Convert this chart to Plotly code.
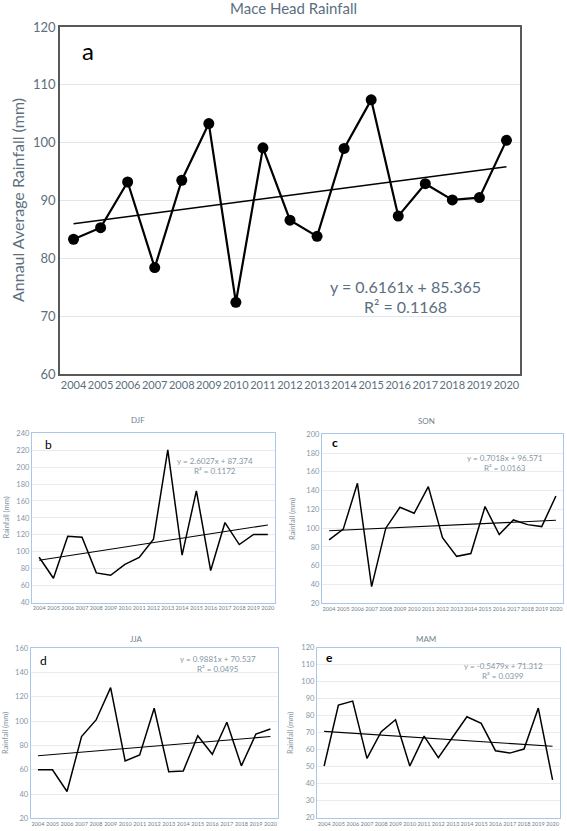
import plotly.graph_objects as go

W, H = 567, 831

years = list(range(2004, 2021))
year_labels = [str(y) for y in years]

annual = [83.3, 85.3, 93.2, 78.4, 93.5, 103.3, 72.4, 99.1, 86.6, 83.8, 99.0, 107.4, 87.3, 92.9, 90.1, 90.5, 100.4]
djf = [93.5, 68.7, 118.3, 117.2, 75.0, 72.2, 85.0, 93.2, 114.8, 220.3, 96.0, 172.0, 77.8, 134.5, 108.5, 120.5, 120.3]
son = [87.5, 99.0, 147.8, 37.8, 100.0, 122.3, 115.9, 144.3, 90.0, 70.0, 73.0, 123.0, 93.2, 108.8, 103.8, 101.7, 134.3]
jja = [60.0, 60.0, 42.1, 87.3, 101.0, 127.6, 67.2, 72.2, 110.6, 58.4, 59.0, 88.0, 72.7, 99.1, 63.2, 89.4, 93.6]
mam = [50.4, 86.3, 88.6, 54.9, 70.6, 77.6, 50.4, 68.0, 55.3, 67.0, 79.4, 75.5, 59.4, 58.0, 60.4, 84.5, 42.2]

# trend equations (x = 1..17) as printed on the chart
trend_annual = (0.6161, 85.365, "y = 0.6161x + 85.365", "R² = 0.1168")
trend_djf = (2.6027, 87.374, "y = 2.6027x + 87.374", "R² = 0.1172")
trend_son = (0.7018, 96.571, "y = 0.7018x + 96.571", "R² = 0.0163")
trend_jja = (0.9881, 70.537, "y = 0.9881x + 70.537", "R² = 0.0495")
trend_mam = (-0.5479, 71.312, "y = -0.5479x + 71.312", "R² = 0.0399")

FONT = "Lato"
MAIN_TXT = "#5b6f7e"
SMALL_TXT = "#8596a5"

def px_x(a, b):
    return [a / W, b / W]

def px_y(top, bottom):
    return [1 - bottom / H, 1 - top / H]

fig = go.Figure()

def trend_vals(t):
    m, c = t[0], t[1]
    return [m * (i + 1) + c for i in range(len(years))]

panels = [
    dict(data=annual, trend=trend_annual, s="", xd=(60, 520), yd=(27, 374), yr=(60, 120), dt=10),
    dict(data=djf, trend=trend_djf, s="2", xd=(32, 275), yd=(433.3, 602.5), yr=(40, 240), dt=20),
    dict(data=son, trend=trend_son, s="3", xd=(322, 563), yd=(434.3, 603.3), yr=(20, 200), dt=20),
    dict(data=jja, trend=trend_jja, s="4", xd=(30.7, 277.7), yd=(648.3, 818.3), yr=(20, 160), dt=20),
    dict(data=mam, trend=trend_mam, s="5", xd=(317, 559.7), yd=(647.7, 817.7), yr=(20, 120), dt=10),
]

for i, p in enumerate(panels):
    main = i == 0
    xa = "x" + p["s"]
    ya = "y" + p["s"]
    fig.add_trace(go.Scatter(
        x=years, y=p["data"], xaxis=xa, yaxis=ya,
        mode="lines+markers" if main else "lines",
        line=dict(color="black", width=2.2 if main else 1.5),
        marker=dict(size=11, color="black"),
        showlegend=False, hoverinfo="skip"))
    fig.add_trace(go.Scatter(
        x=years, y=trend_vals(p["trend"]), xaxis=xa, yaxis=ya,
        mode="lines", line=dict(color="black", width=1.5 if main else 1.1),
        showlegend=False, hoverinfo="skip"))
    xkey = "xaxis" + p["s"]
    ykey = "yaxis" + p["s"]
    fig.update_layout(**{
        xkey: dict(domain=px_x(*p["xd"]), range=[2003.5, 2020.5], anchor=ya,
                   tickmode="array", tickvals=years, ticktext=year_labels,
                   tickangle=0, automargin=False,
                   showgrid=False, zeroline=False, showline=True, mirror=True,
                   linecolor="#595959" if main else "#a8c7ea", linewidth=1.5 if main else 1.2,
                   ticks="", ticklen=0,
                   tickfont=dict(family=FONT, size=11 if main else 5.6,
                                 color=MAIN_TXT if main else "#6f7f8c"),
                   showticklabels=True),
        ykey: dict(domain=px_y(*p["yd"]), range=list(p["yr"]), anchor=xa,
                   dtick=p["dt"], tick0=0, showgrid=True, automargin=False,
                   gridcolor="#dfe7ee" if main else "#ebebeb", gridwidth=1,
                   zeroline=False, showline=True, mirror=True,
                   linecolor="#595959" if main else "#a8c7ea", linewidth=1.5 if main else 1.2,
                   ticks="", tickfont=dict(family=FONT, size=13 if main else 7.5,
                                           color=MAIN_TXT if main else SMALL_TXT)),
    })

ann = []
def A(x, y, text, size, color, angle=0, bold=False, xanchor="center"):
    t = f"<b>{text}</b>" if bold else text
    ann.append(dict(x=x / W, y=1 - y / H, xref="paper", yref="paper", text=t,
                    showarrow=False, textangle=angle, xanchor=xanchor, yanchor="middle",
                    font=dict(family=FONT, size=size, color=color)))

# main chart texts
A(293, 8, "Mace Head Rainfall", 15, MAIN_TXT)
A(17, 200, "Annaul Average Rainfall (mm)", 16, MAIN_TXT, angle=-90)
A(88, 50, "a", 24, "black")
A(405, 286, trend_annual[2], 16, MAIN_TXT)
A(405, 306, trend_annual[3], 16, MAIN_TXT)

# small charts texts
small = [
    ("DJF", 138, 420, "b", 48, 444, False, 215, 461, 471, 5.5, 518),
    ("SON", 426, 421, "c", 335, 443, True, 505, 458, 468, 292, 519),
    ("JJA", 136, 639, "d", 43, 660, False, 218, 659, 669, 5, 733),
    ("MAM", 426, 639, "e", 329, 657, True, 503, 666, 676, 290, 733),
]
trends_small = [trend_djf, trend_son, trend_jja, trend_mam]
for (title, tx, ty, letter, lx, ly, bold, ex, ey1, ey2, yx, yy), t in zip(small, trends_small):
    A(tx, ty, title, 8, "#6f7f8c")
    A(lx, ly, letter, 12, "black", bold=bold)
    A(ex, ey1, t[2], 8, SMALL_TXT)
    A(ex, ey2, t[3], 8, SMALL_TXT)
    A(yx, yy, "Rainfall (mm)", 7.5, SMALL_TXT, angle=-90)

fig.update_layout(
    width=W, height=H, autosize=False,
    margin=dict(l=0, r=0, t=0, b=0),
    paper_bgcolor="white", plot_bgcolor="white",
    annotations=ann,
)

fig.write_html("out.html", config={"displayModeBar": False},
               post_script="document.body.style.margin='0';document.body.style.overflow='hidden';")
